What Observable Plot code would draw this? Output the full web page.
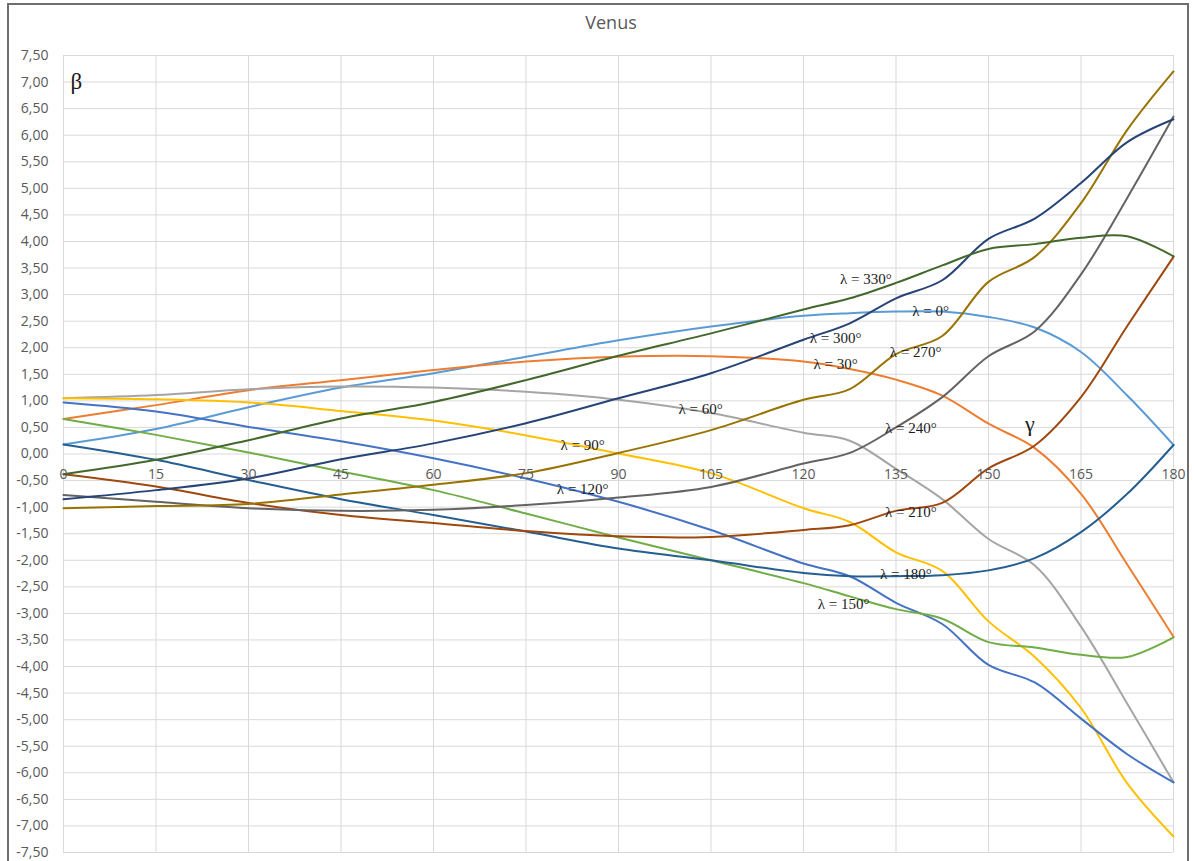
<!DOCTYPE html>
<html><head><meta charset="utf-8">
<script src="https://cdn.jsdelivr.net/npm/d3@7"></script>
<script src="https://cdn.jsdelivr.net/npm/@observablehq/plot@0.6"></script>
<style>
html,body{margin:0;padding:0;background:#fff;overflow:hidden;}
#wrap{position:relative;width:1194px;height:861px;}
#frame{position:absolute;left:7px;top:3px;width:1182px;height:900px;border:2px solid #6e6e6e;box-sizing:border-box;}
#title{position:absolute;left:0;width:1222px;top:10px;text-align:center;font:18px "Open Sans",sans-serif;color:#595959;}
#chart{position:absolute;left:0;top:0;}
</style></head><body>
<div id="wrap"><div id="frame"></div><div id="chart"></div><div id="title">Venus</div></div>
<script>
// γ (x axis) sample positions
const gamma = [0, 15, 30, 45, 60, 75, 90, 105, 120, 127.5, 135, 142.5, 150, 157.5, 165, 172.5, 180];

// β values for each λ series
const beta0   = [0.18, 0.47, 0.88, 1.25, 1.52, 1.83, 2.14, 2.40, 2.60, 2.65, 2.68, 2.68, 2.58, 2.38, 1.92, 1.10, 0.17];
const beta30  = [0.66, 0.92, 1.20, 1.39, 1.58, 1.74, 1.83, 1.84, 1.74, 1.60, 1.40, 1.10, 0.57, 0.11, -0.75, -2.08, -3.44];
const beta60  = [1.05, 1.11, 1.22, 1.27, 1.25, 1.17, 1.02, 0.77, 0.40, 0.25, -0.28, -0.85, -1.60, -2.10, -3.25, -4.70, -6.18];
const beta90  = [1.05, 1.03, 0.97, 0.81, 0.63, 0.35, 0.01, -0.36, -1.02, -1.28, -1.85, -2.20, -3.15, -3.82, -4.78, -6.20, -7.20];
const beta120 = [0.97, 0.80, 0.51, 0.24, -0.08, -0.46, -0.90, -1.43, -2.06, -2.30, -2.80, -3.20, -3.97, -4.30, -4.98, -5.65, -6.18];
const beta150 = [0.66, 0.36, 0.03, -0.33, -0.68, -1.12, -1.57, -2.00, -2.43, -2.68, -2.92, -3.10, -3.54, -3.64, -3.78, -3.82, -3.45];
const beta180 = [0.18, -0.11, -0.49, -0.85, -1.15, -1.46, -1.78, -2.00, -2.24, -2.30, -2.30, -2.28, -2.19, -1.96, -1.47, -0.75, 0.17];
const beta210 = [-0.38, -0.61, -0.92, -1.15, -1.30, -1.45, -1.55, -1.56, -1.43, -1.34, -1.07, -0.92, -0.27, 0.16, 1.07, 2.41, 3.71];
const beta240 = [-0.77, -0.90, -1.02, -1.07, -1.05, -0.96, -0.82, -0.62, -0.18, 0.02, 0.50, 1.07, 1.84, 2.31, 3.38, 4.82, 6.35];
const beta270 = [-1.02, -0.98, -0.94, -0.76, -0.58, -0.36, 0.02, 0.45, 1.02, 1.22, 1.88, 2.22, 3.24, 3.71, 4.72, 6.10, 7.20];
const beta300 = [-0.85, -0.68, -0.46, -0.10, 0.20, 0.58, 1.05, 1.52, 2.15, 2.46, 2.93, 3.27, 4.05, 4.43, 5.10, 5.87, 6.30];
const beta330 = [-0.38, -0.11, 0.26, 0.67, 0.98, 1.39, 1.85, 2.27, 2.72, 2.93, 3.22, 3.55, 3.86, 3.95, 4.07, 4.10, 3.72];

const seriesNames = ["λ = 0°", "λ = 30°", "λ = 60°", "λ = 90°", "λ = 120°", "λ = 150°",
                     "λ = 180°", "λ = 210°", "λ = 240°", "λ = 270°", "λ = 300°", "λ = 330°"];
const seriesValues = [beta0, beta30, beta60, beta90, beta120, beta150, beta180, beta210, beta240, beta270, beta300, beta330];
const seriesColors = ["#5B9BD5", "#ED7D31", "#A5A5A5", "#FFC000", "#4472C4", "#70AD47",
                      "#255E91", "#9E480E", "#636363", "#997300", "#264478", "#43682B"];

// in-chart labels (text, γ, β)
const labelText = ["λ = 330°", "λ = 0°", "λ = 300°", "λ = 270°", "λ = 30°", "λ = 60°", "λ = 90°",
                   "λ = 240°", "λ = 120°", "λ = 210°", "λ = 180°", "λ = 150°"];
const labelGamma = [130.1, 140.6, 125.2, 138.2, 125.2, 103.3, 84.2, 137.4, 84.2, 137.4, 136.6, 126.5];
const labelBeta  = [3.29, 2.69, 2.18, 1.92, 1.69, 0.85, 0.17, 0.49, -0.66, -1.09, -2.26, -2.82];

const xTicks = [0, 15, 30, 45, 60, 75, 90, 105, 120, 135, 150, 165, 180];
const yTicks = [-7.5, -7, -6.5, -6, -5.5, -5, -4.5, -4, -3.5, -3, -2.5, -2, -1.5, -1, -0.5,
                0, 0.5, 1, 1.5, 2, 2.5, 3, 3.5, 4, 4.5, 5, 5.5, 6, 6.5, 7, 7.5];

const rows = seriesNames.flatMap((name, i) =>
  gamma.map((g, j) => ({lambda: name, gamma: g, beta: seriesValues[i][j]})));
const labels = labelText.map((t, i) => ({text: t, gamma: labelGamma[i], beta: labelBeta[i]}));

const fmt = d => d.toFixed(2).replace(".", ",");

const chart = Plot.plot({
  width: 1194,
  height: 861,
  marginLeft: 63,
  marginRight: 21,
  marginTop: 55,
  marginBottom: 9,
  style: {background: "transparent", fontFamily: "'Open Sans', sans-serif"},
  x: {domain: [0, 180], axis: null},
  y: {domain: [-7.5, 7.5], axis: null},
  color: {domain: seriesNames, range: seriesColors},
  marks: [
    Plot.gridX(xTicks, {stroke: "#d9d9d9", strokeOpacity: 1, strokeWidth: 1}),
    Plot.gridY(yTicks, {stroke: "#d9d9d9", strokeOpacity: 1, strokeWidth: 1}),
    Plot.axisY(yTicks, {tickSize: 0, tickPadding: 15, tickFormat: fmt, fontSize: 14, color: "#595959", label: null}),
    Plot.line(rows, {x: "gamma", y: "beta", z: "lambda", stroke: "lambda", strokeWidth: 2, curve: "catmull-rom"}),
    Plot.text(xTicks, {x: d => d, y: 0, dy: 21, text: d => String(d), fill: "#595959", fontSize: 14}),
    Plot.text(labels, {x: "gamma", y: "beta", text: "text", fill: "#1a1a1a", fontSize: 15, fontFamily: "'Liberation Serif', serif"}),
    Plot.text(["β"], {x: 2.1, y: 7.0, text: d => d, fill: "#1a1a1a", fontSize: 23, fontFamily: "'Liberation Serif', serif"}),
    Plot.text(["γ"], {x: 156.7, y: 0.56, text: d => d, fill: "#1a1a1a", fontSize: 22, fontFamily: "'Liberation Serif', serif"})
  ]
});
document.getElementById("chart").appendChild(chart);
</script>
</body></html>
